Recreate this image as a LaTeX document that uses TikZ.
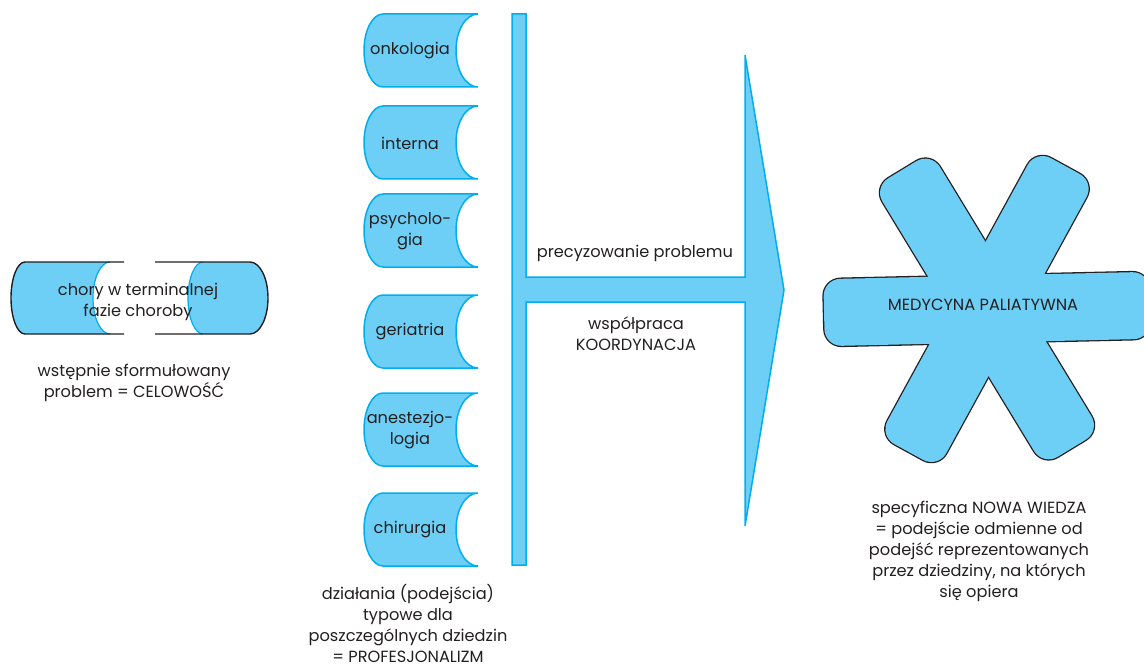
\documentclass[tikz,border=0pt]{standalone}
\usepackage{fontspec}
\setmainfont{Poppins}
\definecolor{fillc}{RGB}{109,207,246}
\definecolor{edgec}{RGB}{0,174,239}
\definecolor{ink}{RGB}{35,31,32}
\tikzset{
  lbl/.style={font=\fontsize{16.2}{21}\selectfont, text=ink, align=center, inner sep=0pt},
  disc/.style={fill=fillc, draw=edgec, line width=1.5pt},
  blk/.style={draw=ink, line width=1.4pt},
  cyanline/.style={draw=edgec, line width=1.2pt},
}
\newcommand\discbox[3]{%
  \path[disc] (478,#2) -- (383,#2) arc[start angle=270,end angle=90,x radius=19,y radius=36.5]
     -- (478,#2+73) arc[start angle=90,end angle=270,x radius=22,y radius=36.5] -- cycle;
  \node[lbl] (#1) at (410,#2+37) {#3};
}
\begin{document}
\begin{tikzpicture}[x=1pt,y=-1pt]
\useasboundingbox (0,0) rectangle (1144,666);

% patient pill
\fill[fillc] (110,262) -- (25,262) arc[start angle=270,end angle=90,x radius=14,y radius=36]
   -- (110,334) arc[start angle=90,end angle=270,x radius=17,y radius=36] -- cycle;
\fill[fillc] (203,262) -- (250,262) arc[start angle=270,end angle=450,x radius=18,y radius=36]
   -- (203,334) arc[start angle=90,end angle=270,x radius=15,y radius=36] -- cycle;
\path[cyanline] (110,334) arc[start angle=90,end angle=270,x radius=17,y radius=36];
\path[cyanline] (203,334) arc[start angle=90,end angle=270,x radius=15,y radius=36];
\path[blk] (124,262) -- (25,262) arc[start angle=270,end angle=90,x radius=14,y radius=36] -- (124,334);
\path[blk] (155,262) -- (250,262) arc[start angle=270,end angle=450,x radius=18,y radius=36] -- (155,334);
\node[lbl] (patient) at (138,302) {chory w terminalnej\\fazie choroby};
\node[lbl] (celowosc) at (134,383) {wstępnie sformułowany\\problem = CELOWOŚĆ};

% disciplines
\discbox{onk}{14}{onkologia}
\discbox{int}{106}{interna}
\discbox{psy}{194}{psycholo-\\gia}
\discbox{ger}{295}{geriatria}
\discbox{ane}{393}{anestezjo-\\logia}
\discbox{chi}{493}{chirurgia}
\node[lbl] (prof) at (408,623) {działania (podejścia)\\typowe dla\\poszczególnych dziedzin\\= PROFESJONALIZM};

% bar + arrow
\path[disc] (512,14) -- (526,14) -- (526,277) -- (745,277) -- (745,55) -- (784,290)
   -- (745,526) -- (745,302) -- (526,302) -- (526,565) -- (512,565) -- cycle;
\node[lbl] (prec) at (635,253) {precyzowanie problemu};
\node[lbl] (wsp) at (636,334) {współpraca\\KOORDYNACJA};

% asterisk
\begin{scope}[shift={(987,309)}, rotate=1.3]
  \foreach \a in {0,60,120}
    \draw[draw=ink, line width=2.6pt, rotate=\a, rounded corners=17pt] (-163,-33.5) rectangle (163,33.5);
  \foreach \a in {0,60,120}
    \fill[fillc, rotate=\a, rounded corners=17pt] (-163,-33.5) rectangle (163,33.5);
\end{scope}
\node[lbl] (med) at (983,305) {MEDYCYNA PALIATYWNA};
\node[lbl] (wiedza) at (979,551) {specyficzna NOWA WIEDZA\\= podejście odmienne od\\podejść reprezentowanych\\przez dziedziny, na których\\się opiera};
\end{tikzpicture}
\end{document}
